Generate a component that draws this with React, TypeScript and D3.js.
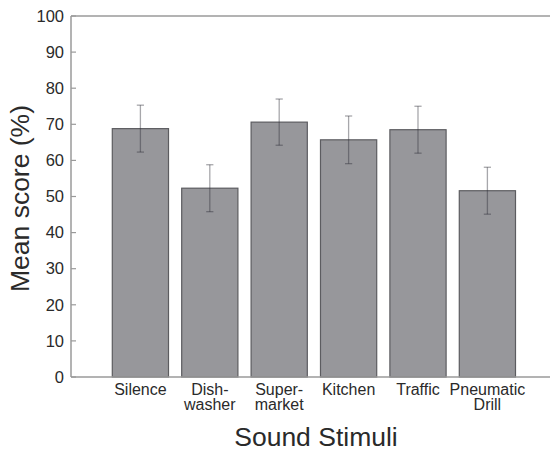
import React from "react";
import * as d3 from "d3";

const categories = ["Silence", "Dishwasher", "Supermarket", "Kitchen", "Traffic", "Pneumatic Drill"];
const categoryLines = [["Silence"], ["Dish-", "washer"], ["Super-", "market"], ["Kitchen"], ["Traffic"], ["Pneumatic", "Drill"]];
const means = [68.8, 52.3, 70.6, 65.7, 68.5, 51.6];
const errors = [6.5, 6.5, 6.4, 6.6, 6.5, 6.5];
const yTicks = [0, 10, 20, 30, 40, 50, 60, 70, 80, 90, 100];
const yTitle = "Mean score (%)";
const xTitle = "Sound Stimuli";

const W = 550;
const H = 450;
const FONT = "'Liberation Sans', Arial, Helvetica, sans-serif";

export default function App() {
  const axisX = 71;
  const y = d3.scaleLinear().domain([0, 100]).range([377, 16]);
  const x = d3
    .scaleBand<string>()
    .domain(categories)
    .range([77.6, 550.2])
    .paddingInner(0.19)
    .paddingOuter(0.5);
  const axisColor = "#9a9a9a";
  const textColor = "#2a2a2a";

  return (
    <svg
      width={W}
      height={H}
      style={{ position: "absolute", left: 0, top: 0, background: "#fff" }}
      fontFamily={FONT}
    >
      {categories.map((c, i) => (
        <rect
          key={c}
          x={x(c)!}
          y={y(means[i])}
          width={x.bandwidth()}
          height={y(0) - y(means[i])}
          fill="#97979b"
          stroke="#5c5c60"
          strokeWidth={1.2}
        />
      ))}
      {categories.map((c, i) => {
        const cx = x(c)! + x.bandwidth() / 2;
        const t = y(means[i] + errors[i]);
        const b = y(means[i] - errors[i]);
        return (
          <g key={c + "e"} stroke="#2e2e36" strokeOpacity={0.42} strokeWidth={1.3}>
            <line x1={cx} x2={cx} y1={t} y2={b} />
            <line x1={cx - 3.6} x2={cx + 3.6} y1={t} y2={t} />
            <line x1={cx - 3.6} x2={cx + 3.6} y1={b} y2={b} />
          </g>
        );
      })}
      <line x1={axisX} x2={W} y1={y(100)} y2={y(100)} stroke={axisColor} strokeWidth={1.5} />
      <line x1={axisX} x2={W} y1={y(0)} y2={y(0)} stroke={axisColor} strokeWidth={1.5} />
      <line x1={axisX} x2={axisX} y1={y(100)} y2={y(0)} stroke={axisColor} strokeWidth={1.5} />
      {yTicks.map((t) => (
        <g key={t}>
          <line x1={axisX} x2={axisX + 5} y1={y(t)} y2={y(t)} stroke={axisColor} strokeWidth={1.2} />
          <text x={64} y={y(t)} dy="0.35em" textAnchor="end" fontSize={16.5} fill={textColor}>
            {t}
          </text>
        </g>
      ))}
      {categories.map((c, i) => (
        <text
          key={c + "l"}
          x={x(c)! + x.bandwidth() / 2}
          y={395}
          textAnchor="middle"
          fontSize={16}
          fill={textColor}
        >
          {categoryLines[i].map((ln, j) => (
            <tspan key={j} x={x(c)! + x.bandwidth() / 2} dy={j === 0 ? 0 : 15}>
              {ln}
            </tspan>
          ))}
        </text>
      ))}
      <text x={316} y={446} textAnchor="middle" fontSize={26.5} fill={textColor}>
        {xTitle}
      </text>
      <text
        transform={`translate(29, 198.5) rotate(-90)`}
        textAnchor="middle"
        fontSize={26.5}
        fill={textColor}
      >
        {yTitle}
      </text>
    </svg>
  );
}
